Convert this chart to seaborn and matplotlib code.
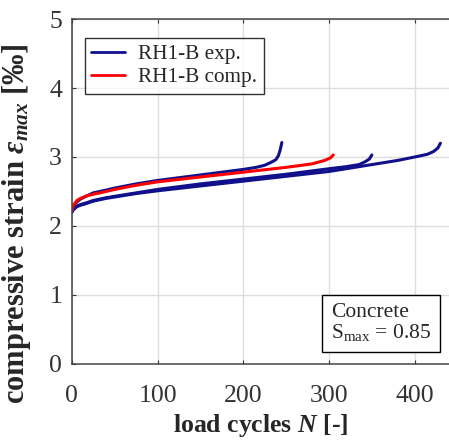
import matplotlib
matplotlib.use('Agg')
import matplotlib.pyplot as plt
import seaborn as sns
import pandas as pd
from matplotlib.lines import Line2D

# data
exp1_n = [0, 1, 3, 6, 10, 18, 25, 40, 50, 75, 100, 125, 150, 175, 200, 215, 225, 232, 238, 241, 243, 245]
exp1_e = [2.22, 2.27, 2.31, 2.35, 2.39, 2.44, 2.48, 2.52, 2.55, 2.61, 2.66, 2.70, 2.74, 2.78, 2.82, 2.85, 2.88, 2.92, 2.96, 3.02, 3.10, 3.21]

exp2_n = [0, 1, 3, 6, 10, 18, 25, 40, 50, 75, 100, 150, 200, 250, 300, 320, 335, 342, 347, 350]
exp2_e = [2.20, 2.23, 2.26, 2.29, 2.31, 2.34, 2.37, 2.41, 2.43, 2.48, 2.53, 2.61, 2.68, 2.75, 2.83, 2.86, 2.89, 2.93, 2.97, 3.03]

exp3_n = [0, 1, 3, 6, 10, 18, 25, 40, 50, 75, 100, 150, 200, 250, 300, 350, 380, 400, 415, 422, 427, 430]
exp3_e = [2.20, 2.22, 2.25, 2.28, 2.30, 2.33, 2.36, 2.40, 2.42, 2.47, 2.51, 2.58, 2.65, 2.72, 2.79, 2.89, 2.95, 3.00, 3.04, 3.08, 3.13, 3.20]

comp_n = [0, 1, 3, 6, 10, 18, 25, 40, 50, 75, 100, 150, 200, 250, 280, 295, 302, 305]
comp_e = [2.22, 2.27, 2.32, 2.37, 2.40, 2.44, 2.46, 2.50, 2.53, 2.59, 2.64, 2.71, 2.78, 2.85, 2.90, 2.95, 2.99, 3.03]

legend_labels = ['RH1-B exp.', 'RH1-B comp.']
box_text = 'Concrete\nS$_{\\mathrm{max}}$ = 0.85'

BLUE = '#10108c'
RED = '#ff0000'

sns.set_style('whitegrid')
plt.rcParams['font.family'] = ['Liberation Serif', 'DejaVu Serif']
plt.rcParams['mathtext.fontset'] = 'custom'
plt.rcParams['mathtext.rm'] = 'Liberation Serif'
plt.rcParams['mathtext.it'] = 'Liberation Serif:italic:bold'
plt.rcParams['mathtext.bf'] = 'Liberation Serif:bold'
plt.rcParams['mathtext.fallback'] = 'stix'

fig = plt.figure(figsize=(4.49, 4.42), dpi=100)
ax = fig.add_axes([0.160, 0.1765, 0.840, 0.7805])

# blue (exp.) curves first, red (comp.) drawn on top
curves = [(exp1_n, exp1_e, BLUE), (exp2_n, exp2_e, BLUE), (exp3_n, exp3_e, BLUE),
          (comp_n, comp_e, RED)]
for n, e, c in curves:
    df = pd.DataFrame({'N': n, 'eps': e})
    sns.lineplot(data=df, x='N', y='eps', color=c, lw=2.2, sort=False,
                 estimator=None, ax=ax)

ax.set_xlim(0, 440)
ax.set_ylim(0, 5)
ax.set_xticks([0, 100, 200, 300, 400])
ax.set_yticks([0, 1, 2, 3, 4, 5])
ax.grid(True, color='#dddddd', lw=1)
ax.tick_params(direction='in', length=3, labelsize=18.5, colors='#333333',
               top=True, bottom=True, left=True, right=False)
ax.tick_params(axis='x', pad=15)
ax.tick_params(axis='y', pad=7)
for side in ['left', 'bottom', 'top']:
    ax.spines[side].set_color('#444444')
    ax.spines[side].set_linewidth(1.1)
ax.spines['right'].set_visible(False)

ax.set_xlabel('load cycles $N$ [-]', fontsize=18.5, fontweight='bold', labelpad=4)
ax.set_ylabel('compressive strain $\\varepsilon_{max}$ [‰]', fontsize=22,
              fontweight='bold')
ax.yaxis.set_label_coords(-0.103, 0.405)

handles = [Line2D([], [], color=BLUE, lw=2), Line2D([], [], color=RED, lw=2)]
leg = ax.legend(handles, legend_labels, loc='upper left', bbox_to_anchor=(0.035, 0.945),
                fontsize=15.3, frameon=True, fancybox=False, handlelength=1.6,
                borderpad=0.3, labelspacing=0.15, handletextpad=0.6,
                borderaxespad=0)
leg.get_frame().set_edgecolor('black')
leg.get_frame().set_linewidth(1)

ax.text(0.687, 0.06, box_text, transform=ax.transAxes, ha='left', va='bottom',
        fontsize=15.5, linespacing=1.0,
        bbox=dict(boxstyle='square,pad=0.4', fc='white', ec='black', lw=1))

fig.savefig('out.png', dpi=100)
